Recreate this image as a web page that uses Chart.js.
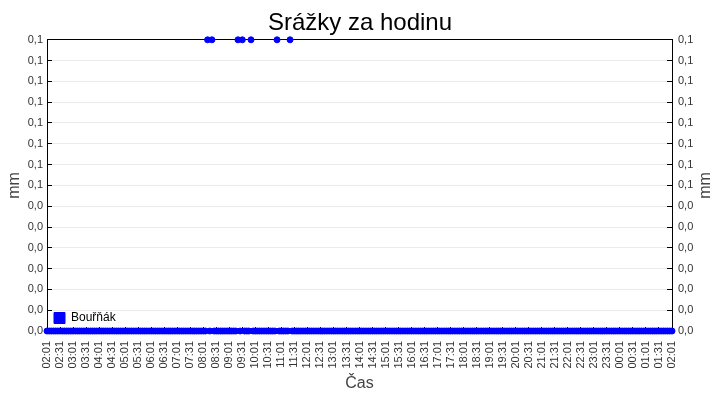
<!DOCTYPE html>
<html>
<head>
<meta charset="utf-8">
<script src="https://cdn.jsdelivr.net/npm/chart.js@4/dist/chart.umd.min.js"></script>
<style>
html,body{margin:0;padding:0;background:#fff;}
#wrap{width:720px;height:400px;}
</style>
</head>
<body>
<div id="wrap"><canvas id="c" width="720" height="400"></canvas></div>
<script>
const chartTitle = 'Srážky za hodinu';
const seriesName = 'Bouřňák';
const xAxisTitle = 'Čas';
const yAxisTitle = 'mm';

const times = [
  '02:01','02:06','02:11','02:16','02:21','02:26','02:31','02:36','02:41','02:46','02:51','02:56',
  '03:01','03:06','03:11','03:16','03:21','03:26','03:31','03:36','03:41','03:46','03:51','03:56',
  '04:01','04:06','04:11','04:16','04:21','04:26','04:31','04:36','04:41','04:46','04:51','04:56',
  '05:01','05:06','05:11','05:16','05:21','05:26','05:31','05:36','05:41','05:46','05:51','05:56',
  '06:01','06:06','06:11','06:16','06:21','06:26','06:31','06:36','06:41','06:46','06:51','06:56',
  '07:01','07:06','07:11','07:16','07:21','07:26','07:31','07:36','07:41','07:46','07:51','07:56',
  '08:01','08:06','08:11','08:16','08:21','08:26','08:31','08:36','08:41','08:46','08:51','08:56',
  '09:01','09:06','09:11','09:16','09:21','09:26','09:31','09:36','09:41','09:46','09:51','09:56',
  '10:01','10:06','10:11','10:16','10:21','10:26','10:31','10:36','10:41','10:46','10:51','10:56',
  '11:01','11:06','11:11','11:16','11:21','11:26','11:31','11:36','11:41','11:46','11:51','11:56',
  '12:01','12:06','12:11','12:16','12:21','12:26','12:31','12:36','12:41','12:46','12:51','12:56',
  '13:01','13:06','13:11','13:16','13:21','13:26','13:31','13:36','13:41','13:46','13:51','13:56',
  '14:01','14:06','14:11','14:16','14:21','14:26','14:31','14:36','14:41','14:46','14:51','14:56',
  '15:01','15:06','15:11','15:16','15:21','15:26','15:31','15:36','15:41','15:46','15:51','15:56',
  '16:01','16:06','16:11','16:16','16:21','16:26','16:31','16:36','16:41','16:46','16:51','16:56',
  '17:01','17:06','17:11','17:16','17:21','17:26','17:31','17:36','17:41','17:46','17:51','17:56',
  '18:01','18:06','18:11','18:16','18:21','18:26','18:31','18:36','18:41','18:46','18:51','18:56',
  '19:01','19:06','19:11','19:16','19:21','19:26','19:31','19:36','19:41','19:46','19:51','19:56',
  '20:01','20:06','20:11','20:16','20:21','20:26','20:31','20:36','20:41','20:46','20:51','20:56',
  '21:01','21:06','21:11','21:16','21:21','21:26','21:31','21:36','21:41','21:46','21:51','21:56',
  '22:01','22:06','22:11','22:16','22:21','22:26','22:31','22:36','22:41','22:46','22:51','22:56',
  '23:01','23:06','23:11','23:16','23:21','23:26','23:31','23:36','23:41','23:46','23:51','23:56',
  '00:01','00:06','00:11','00:16','00:21','00:26','00:31','00:36','00:41','00:46','00:51','00:56',
  '01:01','01:06','01:11','01:16','01:21','01:26','01:31','01:36','01:41','01:46','01:51','01:56',
  '02:01'
];

const values = [
  0,0,0,0,0,0,0,0,0,0,0,0,
  0,0,0,0,0,0,0,0,0,0,0,0,
  0,0,0,0,0,0,0,0,0,0,0,0,
  0,0,0,0,0,0,0,0,0,0,0,0,
  0,0,0,0,0,0,0,0,0,0,0,0,
  0,0,0,0,0,0,0,0,0,0,0,0,
  0,0,0.1,0,0.1,0,0,0,0,0,0,0,
  0,0,0,0,0.1,0,0.1,0,0,0,0.1,0,
  0,0,0,0,0,0,0,0,0,0,0.1,0,
  0,0,0,0,0.1,0,0,0,0,0,0,0,
  0,0,0,0,0,0,0,0,0,0,0,0,
  0,0,0,0,0,0,0,0,0,0,0,0,
  0,0,0,0,0,0,0,0,0,0,0,0,
  0,0,0,0,0,0,0,0,0,0,0,0,
  0,0,0,0,0,0,0,0,0,0,0,0,
  0,0,0,0,0,0,0,0,0,0,0,0,
  0,0,0,0,0,0,0,0,0,0,0,0,
  0,0,0,0,0,0,0,0,0,0,0,0,
  0,0,0,0,0,0,0,0,0,0,0,0,
  0,0,0,0,0,0,0,0,0,0,0,0,
  0,0,0,0,0,0,0,0,0,0,0,0,
  0,0,0,0,0,0,0,0,0,0,0,0,
  0,0,0,0,0,0,0,0,0,0,0,0,
  0,0,0,0,0,0,0,0,0,0,0,0,
  0
];

const xTickLabels = [
  '02:01','02:31','03:01','03:31','04:01','04:31','05:01','05:31','06:01','06:31',
  '07:01','07:31','08:01','08:31','09:01','09:31','10:01','10:31','11:01','11:31',
  '12:01','12:31','13:01','13:31','14:01','14:31','15:01','15:31','16:01','16:31',
  '17:01','17:31','18:01','18:31','19:01','19:31','20:01','20:31','21:01','21:31',
  '22:01','22:31','23:01','23:31','00:01','00:31','01:01','01:31','02:01'
];

const yTickValues = [0, 0.00714, 0.01429, 0.02143, 0.02857, 0.03571, 0.04286, 0.05,
  0.05714, 0.06429, 0.07143, 0.07857, 0.08571, 0.09286, 0.1];
const yTickLabels = ['0,0','0,0','0,0','0,0','0,0','0,0','0,0','0,1',
  '0,1','0,1','0,1','0,1','0,1','0,1','0,1'];

// convert HH:MM sequence to minutes since the first label (monotonic across midnight)
function toMinutes(list) {
  const start = 2 * 60 + 1;
  const out = [];
  let prev = -1;
  list.forEach(t => {
    const [h, m] = t.split(':').map(Number);
    let v = h * 60 + m - start;
    if (v < 0) v += 1440;
    if (v < prev) v += 1440;
    out.push(v);
    prev = v;
  });
  return out;
}

const xs = toMinutes(times);
const xTickValues = toMinutes(xTickLabels);
const points = xs.map((x, i) => ({x: x, y: values[i]}));

const FONT = "'Liberation Sans', Arial, sans-serif";
Chart.defaults.font.family = FONT;

const rightTitle = {
  id: 'rightTitle',
  afterDraw(chart) {
    const c = chart.ctx;
    const ca = chart.chartArea;
    c.save();
    c.font = '16px ' + FONT;
    c.fillStyle = '#444';
    c.textAlign = 'center';
    c.textBaseline = 'middle';
    c.translate(706, (ca.top + ca.bottom) / 2);
    c.rotate(-Math.PI / 2);
    c.fillText(yAxisTitle, 0, 0);
    c.restore();
  }
};

// keep the in-plot legend inside the plot area vertically
const legendInPlot = {
  id: 'legendInPlot',
  afterLayout(chart) {
    const l = chart.legend;
    const ca = chart.chartArea;
    if (l) {
      l.top = ca.top;
      l.bottom = ca.bottom;
    }
  }
};

const yGridColor = (ctx) => (ctx.tick && ctx.tick.value === 0.1) ? '#000000' : '#ebebeb';

new Chart(document.getElementById('c'), {
  type: 'scatter',
  data: {
    datasets: [{
      label: seriesName,
      data: points,
      backgroundColor: '#0000ff',
      borderColor: '#0000ff',
      borderWidth: 1,
      pointRadius: 3,
      pointHoverRadius: 3,
      pointBorderWidth: 1,
      showLine: false,
      clip: false,
      yAxisID: 'y'
    }]
  },
  options: {
    responsive: false,
    animation: false,
    events: [],
    layout: {padding: 0},
    plugins: {
      title: {
        display: true,
        text: chartTitle,
        color: '#000',
        font: {family: FONT, size: 24, weight: 'normal'},
        padding: {top: 9, bottom: 2}
      },
      legend: {
        display: true,
        position: 'chartArea',
        align: 'end',
        labels: {
          boxWidth: 11,
          boxHeight: 11,
          color: '#000',
          font: {family: FONT, size: 12},
          padding: 7
        }
      },
      tooltip: {enabled: false}
    },
    scales: {
      x: {
        type: 'linear',
        position: 'bottom',
        min: 0,
        max: 1440,
        afterBuildTicks: (s) => { s.ticks = xTickValues.map(v => ({value: v})); },
        afterFit: (s) => { s.height = 69; },
        ticks: {
          autoSkip: false,
          minRotation: 90,
          maxRotation: 90,
          padding: 14,
          color: '#333',
          font: {family: FONT, size: 11},
          callback: (v, i) => xTickLabels[i]
        },
        grid: {
          drawOnChartArea: false,
          tickLength: -4,
          tickColor: '#000',
          color: '#000'
        },
        border: {display: true, color: '#000', width: 1},
        title: {
          display: true,
          text: xAxisTitle,
          color: '#444',
          font: {family: FONT, size: 16},
          padding: {top: 0, bottom: 7}
        }
      },
      y: {
        type: 'linear',
        position: 'left',
        min: 0,
        max: 0.1,
        afterBuildTicks: (s) => { s.ticks = yTickValues.map(v => ({value: v})); },
        afterFit: (s) => { s.width = 47; },
        ticks: {
          autoSkip: false,
          padding: 9,
          color: '#333',
          font: {family: FONT, size: 11},
          callback: (v, i) => yTickLabels[i]
        },
        grid: {
          color: yGridColor,
          tickColor: '#000',
          tickLength: -5
        },
        border: {display: true, color: '#000', width: 1},
        title: {
          display: true,
          text: yAxisTitle,
          color: '#444',
          font: {family: FONT, size: 16},
          padding: {top: 5, bottom: 0}
        }
      },
      y2: {
        type: 'linear',
        position: 'right',
        min: 0,
        max: 0.1,
        afterBuildTicks: (s) => { s.ticks = yTickValues.map(v => ({value: v})); },
        afterFit: (s) => { s.width = 48; },
        ticks: {
          autoSkip: false,
          padding: 11,
          color: '#333',
          font: {family: FONT, size: 11},
          callback: (v, i) => yTickLabels[i]
        },
        grid: {
          drawOnChartArea: false,
          tickColor: '#000',
          tickLength: -5
        },
        border: {display: true, color: '#000', width: 1},
        title: {display: false}
      }
    }
  },
  plugins: [rightTitle, legendInPlot]
});
</script>
</body>
</html>
